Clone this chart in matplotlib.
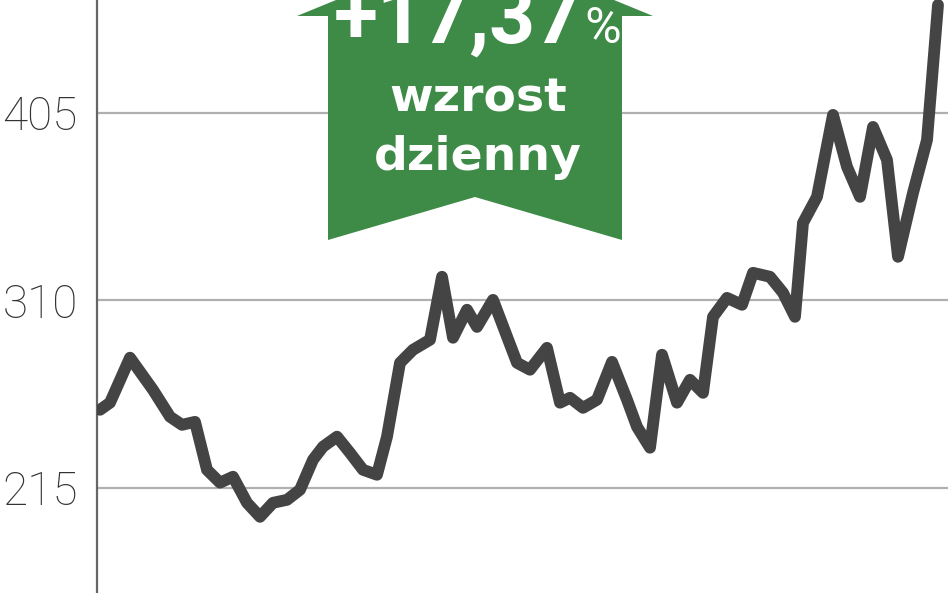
import matplotlib.pyplot as plt
from matplotlib.patches import Polygon

# horizontal position of each reading (pixels right of the axis) and price
x_pos = [3, 13, 33, 56, 73, 85, 98, 110, 123, 136, 150, 163, 176, 190,
         203, 216, 226, 240, 253, 266, 280, 290, 303, 316, 333, 345, 356,
         370, 380, 396, 420, 433, 450, 463, 473, 486, 500, 515, 530, 540,
         553, 565, 580, 593, 606, 616, 630, 645, 656, 673, 686, 698, 706,
         720, 736, 750, 763, 776, 790, 801, 816, 830, 841]
price = [254.6, 258.2, 281.0, 264.7, 251.1, 247.0, 248.5, 224.2, 217.7,
         220.7, 207.5, 200.4, 207.5, 209.0, 214.1, 229.3, 235.9, 241.0,
         232.8, 224.2, 221.7, 241.0, 278.4, 285.0, 290.1, 322.0, 291.1,
         305.3, 296.6, 310.3, 278.4, 274.9, 286.0, 258.2, 260.7, 255.6,
         259.7, 278.9, 259.7, 246.0, 235.4, 282.5, 258.2, 269.8, 263.2,
         301.7, 311.3, 307.8, 324.0, 322.0, 313.9, 301.7, 349.3, 362.5,
         404.0, 377.7, 362.5, 397.9, 381.2, 332.1, 364.5, 391.3, 459.7]

y_ticks = [215, 310, 405]
badge_value = '+17,37'
badge_lines = ['wzrost', 'dzienny']

W, H = 948, 593
fig = plt.figure(figsize=(W / 100, H / 100), dpi=100)
ax = fig.add_axes([97 / W, 0, 1 - 97 / W, 1])

ax.plot(x_pos, price, color='#444444', lw=8.5, solid_joinstyle='round',
        solid_capstyle='round', zorder=3)
ax.set_xlim(0, W - 97)
ax.set_ylim(161.8, 462.2)

for v in y_ticks:
    ax.axhline(v, color='#b0b0b0', lw=1.6, zorder=1)

ax.set_yticks(y_ticks)
ax.set_yticklabels([str(v) for v in y_ticks], fontfamily='Roboto',
                   fontweight='light', fontsize=33, color='#333333')
ax.tick_params(axis='y', length=0, pad=14)
ax.set_xticks([])
for s in ['top', 'right', 'bottom']:
    ax.spines[s].set_visible(False)
ax.spines['left'].set_color('#666666')
ax.spines['left'].set_linewidth(1.6)


# green arrow badge, drawn in figure pixels
def px(x, y):
    return (x / W, 1 - y / H)


arrow = [px(328, 240), px(328, 16), px(297, 16), px(475, -57), px(653, 16),
         px(622, 16), px(622, 240), px(475, 197)]
fig.patches.append(Polygon(arrow, closed=True, transform=fig.transFigure,
                           facecolor='#3e8a47', edgecolor='none', zorder=2))

fig.text(*px(582, 43), badge_value, color='white', fontsize=58,
         fontweight='bold', fontfamily='Roboto', ha='right',
         va='baseline')
fig.text(*px(584, 43), '%', color='white', fontsize=36,
         fontfamily='Roboto', ha='left', va='baseline')
fig.text(*px(478, 112), badge_lines[0], color='white', fontsize=34,
         fontweight='bold', fontfamily='DejaVu Sans', ha='center',
         va='baseline')
fig.text(*px(478, 170), badge_lines[1], color='white', fontsize=34,
         fontweight='bold', fontfamily='DejaVu Sans', ha='center',
         va='baseline')

fig.savefig('out.png', dpi=100, facecolor='white')
